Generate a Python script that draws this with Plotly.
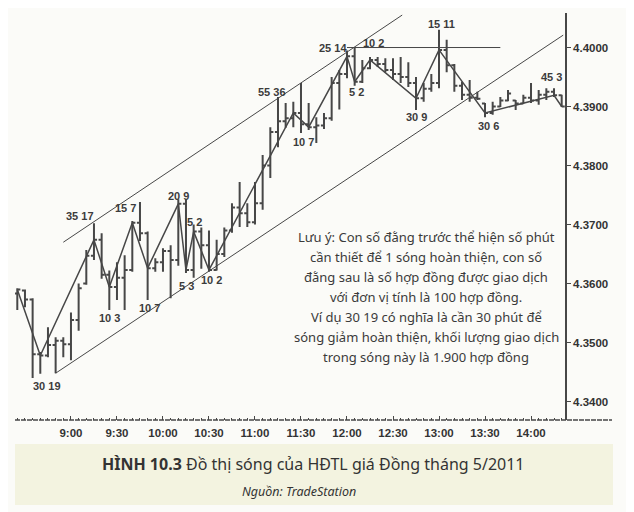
import plotly.graph_objects as go

# 5-minute bars, May 2011 copper futures
day = "2011-04-20 "
bar_times = ["08:25", "08:30", "08:35", "08:40", "08:45", "08:50", "08:55",
             "09:00", "09:05", "09:10", "09:15", "09:20", "09:25", "09:30",
             "09:35", "09:40", "09:45", "09:50", "09:55", "10:00", "10:05",
             "10:10", "10:15", "10:20", "10:25", "10:30", "10:35", "10:40",
             "10:45", "10:50", "10:55", "11:00", "11:05", "11:10", "11:15",
             "11:20", "11:25", "11:30", "11:35", "11:40", "11:45", "11:50",
             "11:55", "12:00", "12:05", "12:10", "12:15", "12:20", "12:25",
             "12:30", "12:35", "12:40", "12:45", "12:50", "12:55", "13:00",
             "13:05", "13:10", "13:15", "13:20", "13:25", "13:30", "13:35",
             "13:40", "13:45", "13:50", "13:55", "14:00", "14:05", "14:10",
             "14:15", "14:20"]
opens = [4.3583, 4.3588, 4.3573, 4.3480, 4.3478, 4.3496, 4.3503,
         4.3497, 4.3538, 4.3600, 4.3647, 4.3674, 4.3615, 4.3594,
         4.3610, 4.3623, 4.3703, 4.3685, 4.3626, 4.3636, 4.3655,
         4.3640, 4.3735, 4.3623, 4.3688, 4.3665, 4.3623, 4.3650,
         4.3690, 4.3729, 4.3719, 4.3704, 4.3736, 4.3800, 4.3857,
         4.3875, 4.3880, 4.3889, 4.3870, 4.3865, 4.3868, 4.3880,
         4.3940, 4.3955, 4.3985, 4.3942, 4.3965, 4.3979, 4.3972,
         4.3962, 4.3955, 4.3950, 4.3940, 4.3914, 4.3930, 4.3940,
         4.3996, 4.3970, 4.3935, 4.3920, 4.3915, 4.3905, 4.3889,
         4.3900, 4.3910, 4.3910, 4.3905, 4.3915, 4.3910, 4.3920,
         4.3925, 4.3919]
highs = [4.3592, 4.3590, 4.3575, 4.3484, 4.3526, 4.3509, 4.3509,
         4.3551, 4.3600, 4.3657, 4.3702, 4.3685, 4.3622, 4.3636,
         4.3648, 4.3706, 4.3738, 4.3688, 4.3643, 4.3660, 4.3665,
         4.3743, 4.3743, 4.3700, 4.3695, 4.3690, 4.3674, 4.3695,
         4.3736, 4.3772, 4.3736, 4.3772, 4.3818, 4.3865, 4.3916,
         4.3906, 4.3908, 4.3940, 4.3906, 4.3882, 4.3889, 4.3950,
         4.3962, 4.3995, 4.4000, 4.3979, 4.3984, 4.3984, 4.3982,
         4.3982, 4.3984, 4.3975, 4.3950, 4.3940, 4.3955, 4.4030,
         4.4013, 4.3972, 4.3942, 4.3945, 4.3925, 4.3906, 4.3908,
         4.3916, 4.3928, 4.3911, 4.3920, 4.3940, 4.3928, 4.3931,
         4.3931, 4.3920]
lows = [4.3555, 4.3560, 4.3440, 4.3447, 4.3475, 4.3448, 4.3475,
        4.3470, 4.3520, 4.3598, 4.3640, 4.3608, 4.3555, 4.3572,
        4.3555, 4.3620, 4.3672, 4.3572, 4.3620, 4.3620, 4.3575,
        4.3630, 4.3618, 4.3610, 4.3625, 4.3620, 4.3622, 4.3645,
        4.3686, 4.3696, 4.3696, 4.3700, 4.3725, 4.3779, 4.3831,
        4.3864, 4.3865, 4.3855, 4.3860, 4.3838, 4.3862, 4.3876,
        4.3895, 4.3948, 4.3935, 4.3940, 4.3963, 4.3967, 4.3958,
        4.3945, 4.3940, 4.3933, 4.3894, 4.3908, 4.3925, 4.3931,
        4.3958, 4.3925, 4.3911, 4.3908, 4.3911, 4.3882, 4.3886,
        4.3899, 4.3909, 4.3894, 4.3905, 4.3906, 4.3903, 4.3911,
        4.3916, 4.3899]
closes = [4.3590, 4.3573, 4.3480, 4.3478, 4.3496, 4.3503, 4.3497,
          4.3538, 4.3592, 4.3647, 4.3674, 4.3615, 4.3594, 4.3610,
          4.3623, 4.3703, 4.3685, 4.3626, 4.3636, 4.3655, 4.3640,
          4.3735, 4.3623, 4.3688, 4.3665, 4.3623, 4.3650, 4.3690,
          4.3729, 4.3719, 4.3704, 4.3736, 4.3800, 4.3857, 4.3875,
          4.3880, 4.3889, 4.3870, 4.3865, 4.3868, 4.3880, 4.3940,
          4.3955, 4.3985, 4.3942, 4.3965, 4.3979, 4.3972, 4.3962,
          4.3955, 4.3950, 4.3940, 4.3914, 4.3930, 4.3940, 4.3996,
          4.3970, 4.3935, 4.3920, 4.3915, 4.3913, 4.3889, 4.3900,
          4.3910, 4.3922, 4.3905, 4.3915, 4.3910, 4.3920, 4.3925,
          4.3919, 4.3900]

# wave line (turning points)
wave_times = ["08:25", "08:40", "09:15", "09:25", "09:40", "09:50", "10:10",
              "10:15", "10:20", "10:30", "11:25", "11:35", "12:00", "12:05",
              "12:15", "12:45", "13:00", "13:30", "14:15", "14:20"]
wave_prices = [4.3590, 4.3478, 4.3674, 4.3594, 4.3703, 4.3626, 4.3735,
               4.3623, 4.3688, 4.3623, 4.3889, 4.3865, 4.3985, 4.3942,
               4.3979, 4.3914, 4.3996, 4.3889, 4.3919, 4.3900]

# wave labels: minutes + volume (hundreds of contracts)
wave_labels = ["30 19", "35 17", "10 3", "15 7", "10 7", "20 9", "5 3", "5 2",
               "10 2", "55 36", "10 7", "25 14", "5 2", "10 2", "30 9",
               "15 11", "30 6", "45 3"]
label_times = ["08:44:20", "09:05:50", "09:25:20", "09:35:50", "09:51:30",
               "10:09:50", "10:15:20", "10:20:50", "10:31:40", "11:10:50",
               "11:31:30", "11:51:00", "12:06:20", "12:17:10", "12:45:30",
               "13:01:50", "13:32:10", "14:13:30"]
label_prices = [4.3426, 4.3714, 4.3542, 4.3728, 4.3558, 4.3748, 4.3595, 4.3704,
                4.3606, 4.3925, 4.3840, 4.4000, 4.3925, 4.4007, 4.3883,
                4.4040, 4.3867, 4.3950]

# channel and resistance lines
lower_times = ["08:50", "14:21"]
lower_prices = [4.3448, 4.4021]
upper_times = ["08:55", "12:36"]
upper_prices = [4.3670, 4.4055]
resist_times = ["12:00", "13:40"]
resist_prices = [4.4000, 4.4000]

x_ticks = ["09:00", "09:30", "10:00", "10:30", "11:00", "11:30",
           "12:00", "12:30", "13:00", "13:30", "14:00"]
x_ticktext = ["9:00", "9:30", "10:00", "10:30", "11:00", "11:30",
              "12:00", "12:30", "13:00", "13:30", "14:00"]
y_ticks = [4.34, 4.35, 4.36, 4.37, 4.38, 4.39, 4.40]

note_lines = [
    "Lưu ý: Con số đằng trước thể hiện số phút",
    "cần thiết để 1 sóng hoàn thiện, con số",
    "đằng sau là số hợp đồng được giao dịch",
    "với đơn vị tính là 100 hợp đồng.",
    "Ví dụ 30 19 có nghĩa là cần 30 phút để",
    "sóng giảm hoàn thiện, khối lượng giao dịch",
    "trong sóng này là 1.900 hợp đồng",
]
caption = "<b>HÌNH 10.3</b> Đồ thị sóng của HĐTL giá Đồng tháng 5/2011"
source = "<i>Nguồn: TradeStation</i>"

INK = "#474747"
PAGE_W, PAGE_H = 634, 512
OFF = 8                       # browser body margin
PL, PR, PT, PB = 15, 565, 13, 420   # plot box in page pixels


def ts(t):
    return day + t


def px(x):
    return (x - PL) / (PR - PL)


def py(y):
    return (PB - y) / (PB - PT)


fig = go.Figure()

fig.add_trace(go.Ohlc(
    x=[ts(t) for t in bar_times], open=opens, high=highs, low=lows, close=closes,
    increasing=dict(line=dict(color=INK, width=2)),
    decreasing=dict(line=dict(color=INK, width=2)),
    tickwidth=0.4, hoverinfo="skip", showlegend=False,
))

for tt, pp, w in [(wave_times, wave_prices, 1.5), (lower_times, lower_prices, 1),
                  (upper_times, upper_prices, 1), (resist_times, resist_prices, 1)]:
    fig.add_trace(go.Scatter(
        x=[ts(t) for t in tt], y=pp, mode="lines",
        line=dict(color=INK, width=w), hoverinfo="skip", showlegend=False,
    ))

for txt, t, p in zip(wave_labels, label_times, label_prices):
    fig.add_annotation(x=ts(t), y=p, xref="x", yref="y", text=txt,
                       showarrow=False, yanchor="middle",
                       font=dict(family="Liberation Sans", size=11,
                                 color="#3c3c3c", weight="bold"))

for i, line in enumerate(note_lines):
    fig.add_annotation(x=px(426), y=py(237 + 20 * i), xref="paper", yref="paper",
                       text=line, showarrow=False, xanchor="center", yanchor="middle",
                       font=dict(family="Noto Sans", size=13, color="#3a3a3a"))

# caption band
fig.add_shape(type="rect", xref="paper", yref="paper", layer="below",
              x0=px(15), x1=px(613), y0=py(505), y1=py(444),
              fillcolor="#f3f3e0", line=dict(width=0))
# bottom axis line (runs past the price axis)
fig.add_shape(type="line", xref="paper", yref="paper",
              x0=px(15), x1=px(612), y0=py(420), y1=py(420),
              line=dict(color=INK, width=1.5, dash="5px,1px"))

fig.add_annotation(x=px(313), y=py(464), xref="paper", yref="paper", text=caption,
                   showarrow=False, yanchor="middle",
                   font=dict(family="Noto Sans", size=16, color="#333"))
fig.add_annotation(x=px(299), y=py(492), xref="paper", yref="paper", text=source,
                   showarrow=False, yanchor="middle",
                   font=dict(family="Noto Sans", size=12.5, color="#333"))

fig.update_layout(
    width=PAGE_W - OFF, height=PAGE_H - OFF,
    margin=dict(l=PL - OFF, r=PAGE_W - PR, t=PT - OFF, b=PAGE_H - PB),
    paper_bgcolor="#fbfbf8", plot_bgcolor="#fbfbf8",
    showlegend=False,
    xaxis=dict(
        type="date", range=[ts("08:23:30"), ts("14:22:10")],
        rangeslider=dict(visible=False),
        showgrid=False, zeroline=False, showline=False,
        tickvals=[ts(t) for t in x_ticks], ticktext=x_ticktext,
        ticks="inside", ticklen=4, tickcolor=INK, ticklabelstandoff=4,
        minor=dict(dtick=5 * 60 * 1000, ticks="inside", ticklen=2, tickcolor=INK),
        tickfont=dict(family="Liberation Sans", size=11.5, color="#333", weight="bold"),
    ),
    yaxis=dict(
        side="right", range=[4.33687, 4.40585],
        tickvals=y_ticks, tickformat=".4f",
        showgrid=False, zeroline=False,
        showline=True, linecolor=INK, linewidth=1.5,
        ticks="outside", ticklen=4, tickcolor=INK,
        tickfont=dict(family="Liberation Sans", size=11.5, color="#333", weight="bold"),
    ),
)

fig.write_html("out.html")
